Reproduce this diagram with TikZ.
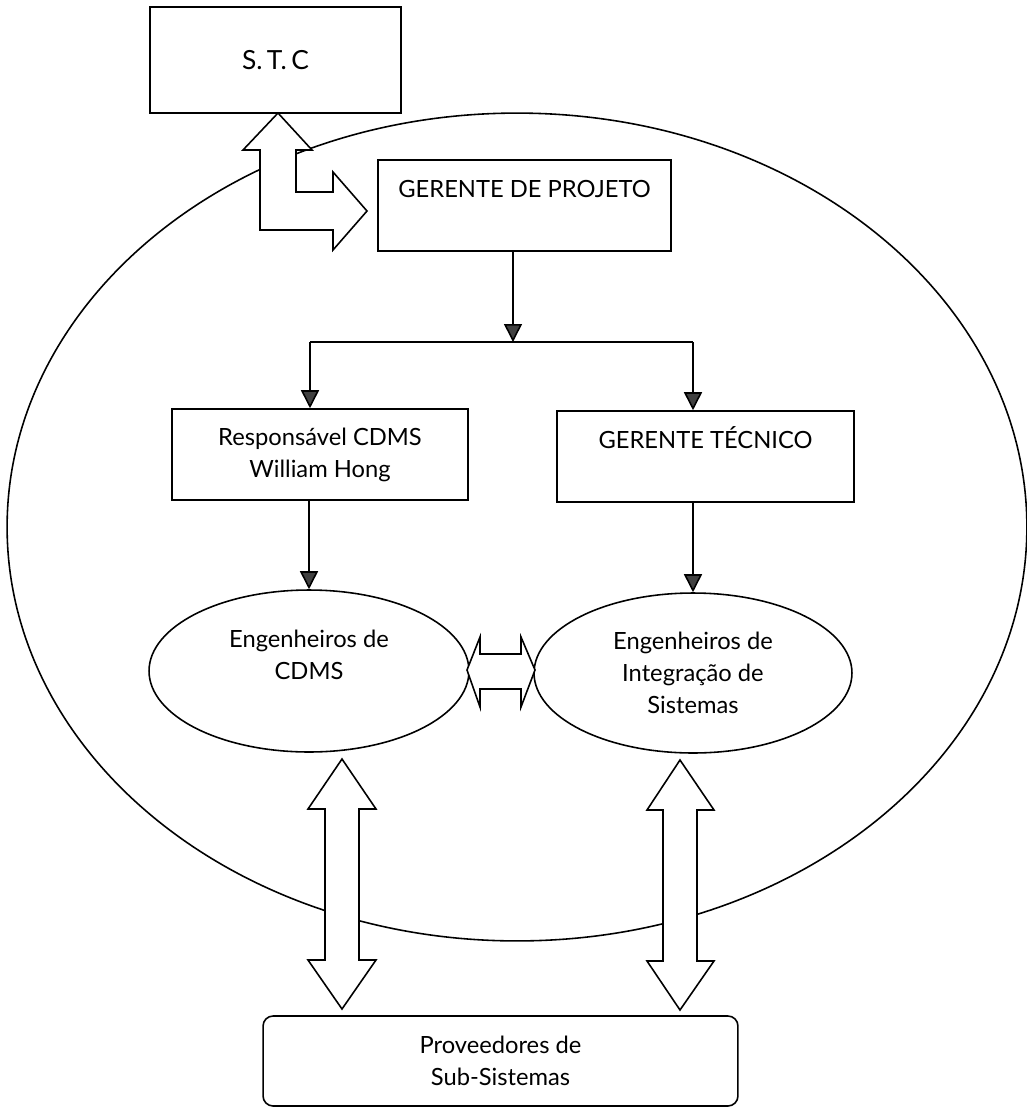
\documentclass[tikz,border=0pt]{standalone}
\usepackage{fontspec}
\setmainfont{Lato}
\usetikzlibrary{shapes.geometric,arrows.meta}

\begin{document}
\begin{tikzpicture}[x=0.02cm, y=-0.02cm,
    font=\fontsize{13.5}{18.2}\selectfont,
    box/.style={draw, line width=0.9pt, align=center},
    topbox/.style={box, minimum height=1.82cm, text height=0.42cm, text depth=0.76cm},
    oval/.style={draw, ellipse, line width=0.9pt, align=center, inner sep=0pt},
    conn/.style={line width=0.9pt, -{Triangle[width=0.36cm, length=0.36cm, fill=black!75]}},
    hollow/.style={draw, fill=white, line width=0.9pt, line join=miter}]
    \useasboundingbox (0,0) rectangle (1027,1107);
    \draw[line width=0.9pt] (517,527) ellipse [x radius=10.2cm, y radius=8.28cm];
    \node[box, minimum width=5.02cm, minimum height=2.12cm] at (275.5,60) (stc) {\fontsize{15}{18}\selectfont S.\,T.\,C};
    \node[topbox, minimum width=5.86cm] at (524.5,205.5) (projeto) {GERENTE DE PROJETO};
    \draw[hollow] (278,113) -- (312,150) -- (296,150) -- (296,192) -- (333,192) -- (333,172) -- (367,211) -- (333,250) -- (333,230) -- (260,230) -- (260,150) -- (243,150) -- cycle;
    \coordinate (split) at (513,342);
    \coordinate (splitL) at (310,342);
    \coordinate (splitR) at (693,342);
    \draw[conn] (projeto.south -| split) -- (split);
    \draw[line width=0.9pt] (splitL) -- (splitR);
    \node[box, minimum width=5.92cm, minimum height=1.82cm] at (320,454.5) (cdms) {Responsável CDMS\\William Hong};
    \draw[conn] (splitL) -- (splitL |- cdms.north);
    \node[topbox, minimum width=5.94cm] at (705.5,456.5) (tecnico) {GERENTE TÉCNICO};
    \draw[conn] (splitR) -- (splitR |- tecnico.north);
    \node[oval, minimum width=6.4cm, minimum height=3.24cm] at (309,671) (engcdms) {Engenheiros de\\CDMS\\\mbox{}};
    \draw[conn] (engcdms.north |- cdms.south) -- (engcdms.north);
    \node[oval, minimum width=6.36cm, minimum height=3.2cm] at (693,673) (engsis) {Engenheiros de\\Integração de\\Sistemas};
    \draw[conn] (engsis.north |- tecnico.south) -- (engsis.north);
    \draw[hollow] (467,670) -- (480,637) -- (480,654) -- (521,654) -- (521,637) -- (535,670) -- (521,707) -- (521,689) -- (480,689) -- (480,707) -- cycle;
    \node[box, rounded corners=0.2cm, minimum width=9.5cm, minimum height=1.8cm] at (500.5,1061) (proveedores) {Proveedores de\\Sub-Sistemas};
    \draw[hollow] (342,759) -- (376,809) -- (359,809) -- (359,960) -- (376,960) -- (342,1009) -- (308,960) -- (325,960) -- (325,809) -- (308,809) -- cycle;
    \draw[hollow] (680,760) -- (714,810) -- (697,810) -- (697,961) -- (714,961) -- (680,1010) -- (647,961) -- (663,961) -- (663,810) -- (647,810) -- cycle;
\end{tikzpicture}
\end{document}
